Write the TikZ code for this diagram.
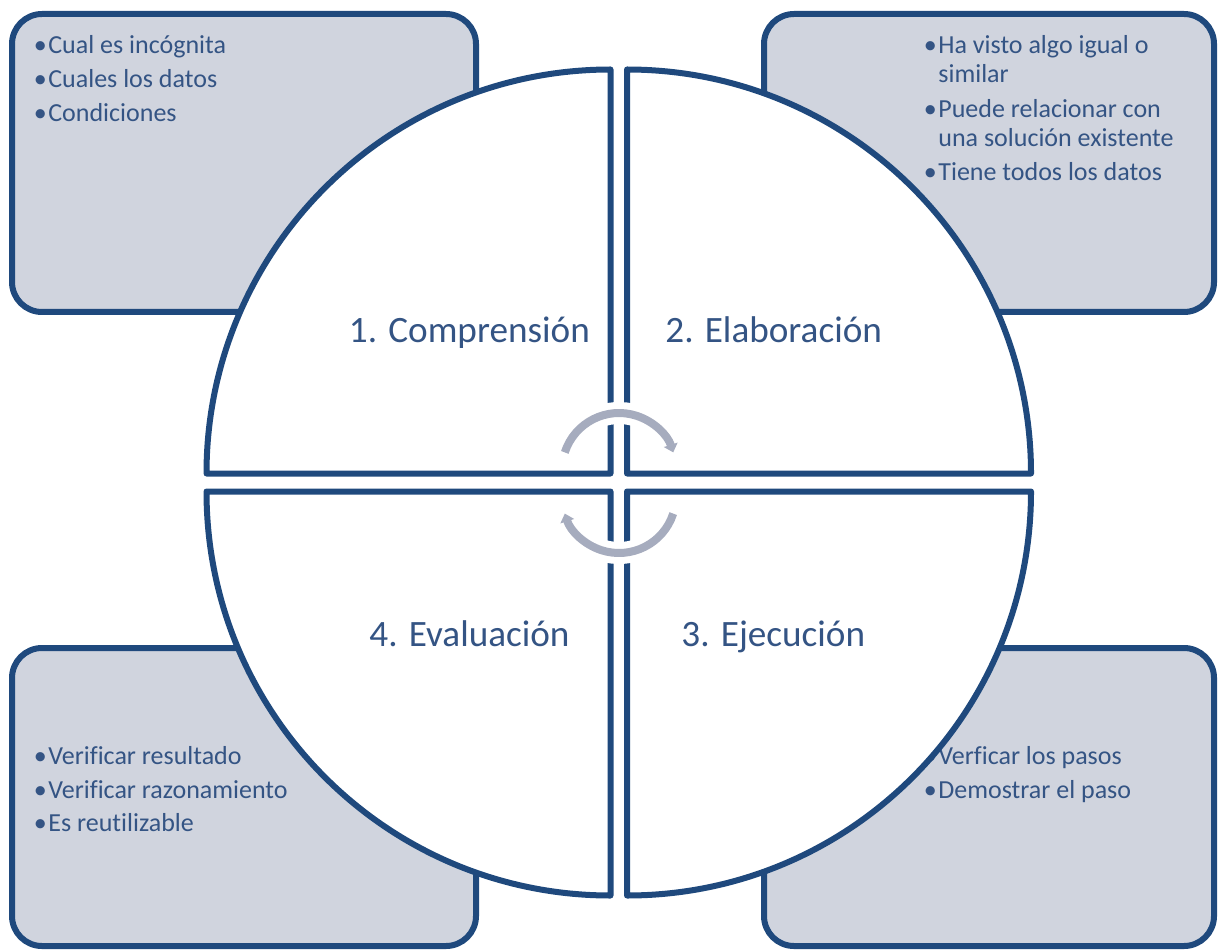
\documentclass[tikz,border=0pt]{standalone}
\usepackage{fontspec}
\setmainfont{Carlito}[Ligatures=NoCommon]
\usetikzlibrary{arrows.meta}

% bullet with a fixed hanging width
\newcommand{\itm}[1]{\makebox[8pt][c]{\textbullet}#1}

\begin{document}
\begin{tikzpicture}[x=0.5pt, y=0.5pt, line join=round]
        % colours
        \definecolor{darkblue}{RGB}{31,73,125}
        \definecolor{textblue}{RGB}{52,84,132}
        \definecolor{boxgray}{RGB}{208,212,222}
        \definecolor{arrowgray}{RGB}{166,172,190}

        % common styles
        \tikzset{
            infobox/.style={draw=darkblue, line width=3pt, fill=boxgray, rounded corners=15pt},
            piece/.style={draw=darkblue, line width=3pt, fill=white},
            item/.style={anchor=base west, inner sep=0pt, text=textblue, font=\fontsize{13}{15}\selectfont},
            title/.style={anchor=base west, inner sep=0pt, text=textblue, font=\fontsize{18.6}{22}\selectfont},
            halo/.style={white, line width=11pt},
            cyclearrow/.style={arrowgray, line width=4pt, -{Triangle[length=4pt, width=7pt]}}
        }

        \useasboundingbox (0,0) rectangle (1218,949);

        % --- corner boxes ---
        \draw[infobox] (12,637) rectangle (476,935);
        \draw[infobox] (764,637) rectangle (1214,935);
        \draw[infobox] (12,3) rectangle (476,301);
        \draw[infobox] (764,3) rectangle (1214,301);

        % --- box texts ---
        \foreach \yy/\txt [count=\i] in {895/Cual es incógnita, 861/Cuales los datos, 827/Condiciones} {
            \node[item] (tl\i) at (32,\yy) {\itm{\txt}};
        }

        \node[item] (tr1) at (922,895) {\itm{Ha visto algo igual o}};
        \node[item] (tr1b) at (938,866) {similar};
        \node[item] (tr2) at (922,831) {\itm{Puede relacionar con}};
        \node[item] (tr2b) at (938,802) {una solución existente};
        \node[item] (tr3) at (922,768) {\itm{Tiene todos los datos}};

        \foreach \yy/\txt [count=\i] in {185/Verificar resultado, 151/Verificar razonamiento, 118/Es reutilizable} {
            \node[item] (bl\i) at (32,\yy) {\itm{\txt}};
        }

        \foreach \yy/\txt [count=\i] in {185/Verficar los pasos, 151/Demostrar el paso} {
            \node[item] (br\i) at (922,\yy) {\itm{\txt}};
        }

        % --- quarter pieces ---
        \draw[piece] (610.5,475.5) -- (206.5,475.5) arc[start angle=180, end angle=90, radius=404] -- cycle;
        \draw[piece] (627,475.5) -- (627,879.5) arc[start angle=90, end angle=0, radius=404] -- cycle;
        \draw[piece] (627,457.5) -- (1031,457.5) arc[start angle=0, end angle=-90, radius=404] -- cycle;
        \draw[piece] (610.5,457.5) -- (610.5,53.5) arc[start angle=270, end angle=180, radius=404] -- cycle;

        % --- titles ---
        \node[title] (comp) at (348.5,607) {1. Comprensión};
        \node[title] (elab) at (665,607) {2. Elaboración};
        \node[title] (ejec) at (681,303) {3. Ejecución};
        \node[title] (eval) at (369,303) {4. Evaluación};

        % --- cycle arrows ---
        \draw[halo] (564.8,496.6) arc[start angle=162, end angle=18, radius=57];
        \draw[halo] (673.2,435.4) arc[start angle=-18, end angle=-162, radius=57];
        \draw[cyclearrow] (564.8,496.6) arc[start angle=162, end angle=18, radius=57];
        \draw[cyclearrow] (673.2,435.4) arc[start angle=-18, end angle=-162, radius=57];
\end{tikzpicture}
\end{document}
